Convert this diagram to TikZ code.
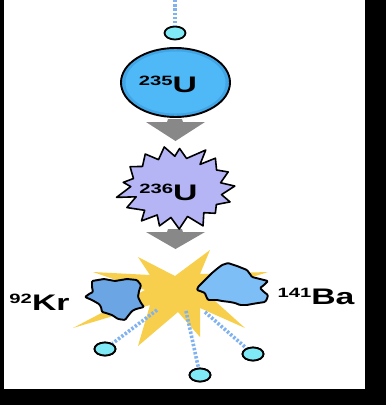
\documentclass[tikz,border=0pt]{standalone}
\usepackage{fontspec}
\setmainfont{Liberation Sans}
\usetikzlibrary{shapes.geometric}

\definecolor{uranium}{HTML}{4FB8F6}
\definecolor{uraniumrim}{HTML}{42A6E6}
\definecolor{excited}{HTML}{B5B5F6}
\definecolor{flash}{HTML}{F8CF4C}
\definecolor{krypton}{HTML}{6BA5E3}
\definecolor{barium}{HTML}{7DBEF7}
\definecolor{neutronfill}{HTML}{7FE9F5}
\definecolor{trailblue}{HTML}{80B2F0}
\definecolor{stepgray}{HTML}{888888}

% mass number set as a raised prefix, wide letters
\newcommand\isotope[2]{\scalebox{1.5}[1]{\raisebox{7pt}{\fontsize{13.5pt}{14pt}\selectfont #1}#2}}

\begin{document}
\begin{tikzpicture}[x=1pt, y=-1pt,
  neutron/.style={ellipse, draw=black, line width=1.8pt, fill=neutronfill,
    minimum width=21pt, minimum height=13pt, inner sep=0pt},
  trail/.style={draw=trailblue, line width=3.6pt, dash pattern=on 2.4pt off 1.8pt},
  isolabel/.style={font=\bfseries\fontsize{22.5pt}{24pt}\selectfont, inner sep=0pt},
  outline/.style={draw=black, line width=1.9pt, line join=round},
  steparrow/.style={fill=stepgray}]

\useasboundingbox (0,0) rectangle (386,405);
\fill[black] (0,0) rectangle (386,405);
\fill[white] (4,0) rectangle (365,389);

% incoming neutron
\coordinate (src) at (175,0);
\node[neutron] (n0) at (175,33) {};
\draw[trail] (src) -- (n0);

% uranium-235 nucleus
\node[ellipse, fill=uraniumrim, minimum width=109pt, minimum height=69pt, inner sep=0pt] (u235) at (175.5,82.5) {};
\fill[uranium] (175.5,82.5) ellipse [x radius=50pt, y radius=31pt];
\draw[outline] (175.5,82.5) ellipse [x radius=54.5pt, y radius=34.5pt];
\node[isolabel, anchor=base] (t235) at (168,92) {\isotope{235}{U}};

% step arrows
\fill[steparrow] (168,119) -- (182,119) -- (183,122) -- (205,122) -- (175.5,141) -- (146,122) -- (167,122) -- cycle;
\fill[steparrow] (168,229) -- (182,229) -- (183,232) -- (205,232) -- (175.5,249) -- (146,232) -- (167,232) -- cycle;

% excited uranium-236
\pgfmathsetseed{11}
\filldraw[fill=excited, outline, line width=1.6pt]
  plot[samples at={0,...,33}, variable=\k]
  ({176.5 + (mod(\k,2)==0 ? 58 : 45)*(1+0.07*rand)*cos(\k*360/34 + 4*rand)},
   {187.5 + (mod(\k,2)==0 ? 40 : 30)*(1+0.07*rand)*sin(\k*360/34 + 4*rand)}) -- cycle;
\node[isolabel, anchor=base] (t236) at (168.5,200) {\isotope{236}{U}};

% fission flash
\fill[flash] (210,250) -- (200,274) -- (268,272) -- (205,292) -- (245,328) -- (200,308)
  -- (200,337) -- (178,312) -- (138,346) -- (150,305) -- (73,328) -- (145,290)
  -- (93,272) -- (150,275) -- (138,257) -- (175,276) -- cycle;

% emitted neutrons
\coordinate (e1) at (157,310);
\coordinate (e2) at (186,311);
\coordinate (e3) at (205,312);
\node[neutron] (n1) at (105,349) {};
\node[neutron] (n2) at (200,375) {};
\node[neutron] (n3) at (253,354) {};
\draw[trail] (e1) -- (n1);
\draw[trail] (e2) -- (n2);
\draw[trail] (e3) -- (n3);
\node[neutron] at (n1) {};
\node[neutron] at (n2) {};
\node[neutron] at (n3) {};

% fragments
\filldraw[fill=krypton, outline, rounded corners=1pt]
  (92,281) -- (104,279) -- (115,281) -- (127,279) -- (137,280) -- (141,285) -- (139,291)
  -- (138,297) -- (141,303) -- (144,307) -- (136,309) -- (132,311) -- (128,316) -- (125,320)
  -- (118,319) -- (112,315) -- (106,313) -- (102,312) -- (101,307) -- (99,304) -- (92,300)
  -- (85,297) -- (89,294) -- (93,292) -- (92,287) -- cycle;
\filldraw[fill=barium, outline, rounded corners=1pt]
  (198,287) -- (205,280) -- (212,273) -- (218,268) -- (222,265) -- (228,263) -- (237,266)
  -- (242,268) -- (247,270) -- (250,274) -- (252,277) -- (260,279) -- (268,281) -- (264,285)
  -- (260,288) -- (264,292) -- (268,295) -- (267,299) -- (265,302) -- (258,303) -- (252,304)
  -- (247,305) -- (240,305) -- (235,303) -- (230,302) -- (222,301) -- (217,300) -- (208,300)
  -- (206,296) -- (205,293) -- (200,291) -- (197,290) -- cycle;

\node[isolabel, anchor=base] (tkr) at (39.5,310) {\isotope{92}{Kr}};
\node[isolabel, anchor=base] (tba) at (316,304) {\isotope{141}{Ba}};
\end{tikzpicture}
\end{document}
